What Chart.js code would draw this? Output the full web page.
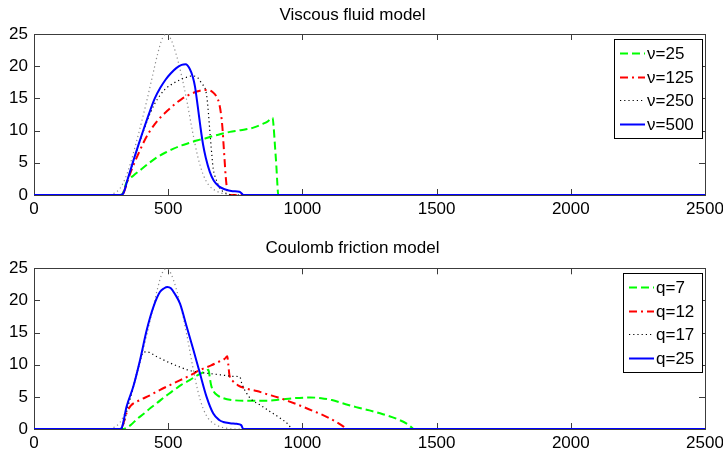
<!DOCTYPE html>
<html>
<head>
<meta charset="utf-8">
<title>Viscous fluid / Coulomb friction</title>
<script src="https://cdn.jsdelivr.net/npm/chart.js@4.4.1/dist/chart.umd.min.js"></script>
<style>
  body { margin: 0; background: #fff; }
  .panel { position: absolute; left: 0; width: 723px; height: 228px; }
</style>
</head>
<body>
<div class="panel" style="top:0"><canvas id="viscous" width="723" height="228"></canvas></div>
<div class="panel" style="top:228px"><canvas id="coulomb" width="723" height="228"></canvas></div>
<script>
// Axis ticks
const xTicks = [0, 500, 1000, 1500, 2000, 2500];
const yTicks = [0, 5, 10, 15, 20, 25];

// Reference pulse (thin grey dots, same in both panels)
const refX = [0, 280, 300, 320, 340, 360, 380, 400, 420, 440, 460, 478, 495, 510, 530, 550, 570, 590, 610, 630, 650, 680, 720, 740, 2500];
const refY = [0, 0, 0.3, 1.0, 2.6, 5.0, 8.0, 11.2, 14.6, 18.2, 21.8, 24.3, 25.0, 24.2, 21.8, 18.5, 14.5, 10.0, 6.0, 3.2, 1.6, 0.6, 0.1, 0, 0];

// Viscous fluid model
const viscLabels = ['ν=25', 'ν=125', 'ν=250', 'ν=500'];
const visc25X = [0, 320, 330, 345, 370, 400, 430, 460, 490, 520, 550, 580, 610, 640, 670, 700, 730, 760, 790, 820, 850, 870, 889, 893, 898, 903, 907, 910, 2500];
const visc25Y = [0, 0, 0.2, 2.0, 3.0, 4.0, 5.0, 5.9, 6.6, 7.2, 7.7, 8.1, 8.5, 8.8, 9.2, 9.5, 9.8, 10.0, 10.2, 10.5, 11.0, 11.4, 12.0, 10.5, 7.5, 4.5, 1.5, 0, 0];
const visc125X = [0, 320, 330, 350, 370, 390, 410, 430, 450, 470, 490, 510, 530, 550, 570, 590, 610, 630, 650, 665, 680, 690, 697, 702, 706, 710, 714, 718, 722, 730, 2500];
const visc125Y = [0, 0, 0.1, 2.4, 4.6, 6.5, 8.3, 9.8, 11.0, 12.0, 12.8, 13.6, 14.3, 14.9, 15.4, 15.8, 16.1, 16.3, 16.3, 16.0, 15.3, 14.2, 12.5, 10.5, 8.0, 5.5, 3.0, 1.3, 0.3, 0, 0];
const visc250X = [0, 320, 330, 350, 370, 390, 410, 430, 450, 470, 490, 510, 530, 550, 570, 590, 610, 625, 640, 646, 650, 654, 658, 663, 668, 678, 690, 705, 720, 740, 2500];
const visc250Y = [0, 0, 0.1, 2.5, 5.2, 7.8, 10.2, 12.4, 14.2, 15.5, 16.5, 17.1, 17.6, 18.0, 18.3, 18.5, 18.2, 17.3, 16.2, 14.5, 12.7, 10.5, 8.5, 6.0, 4.0, 2.5, 1.2, 0.5, 0.2, 0, 0];
const visc500X = [0, 320, 330, 350, 370, 390, 410, 430, 450, 470, 490, 510, 530, 550, 565, 580, 592, 600, 610, 620, 630, 640, 655, 670, 690, 710, 740, 765, 775, 780, 2500];
const visc500Y = [0, 0, 0.1, 2.6, 5.3, 7.9, 10.4, 12.8, 15.0, 16.6, 17.9, 18.9, 19.7, 20.2, 20.3, 19.6, 18.3, 16.8, 13.8, 10.6, 7.8, 5.8, 3.6, 2.2, 1.3, 0.9, 0.6, 0.5, 0.2, 0, 0];

// Coulomb friction model
const coulLabels = ['q=7', 'q=12', 'q=17', 'q=25'];
const coul7X = [0, 330, 340, 360, 385, 410, 435, 460, 490, 520, 550, 580, 610, 635, 650, 655, 660, 670, 685, 705, 740, 780, 830, 870, 920, 970, 1030, 1070, 1110, 1150, 1200, 1250, 1300, 1350, 1390, 1405, 1415, 2500];
const coul7Y = [0, 0, 0.1, 0.6, 1.6, 2.4, 3.3, 4.1, 5.1, 6.0, 6.9, 7.6, 8.4, 8.9, 9.2, 8.0, 6.8, 5.8, 5.2, 4.8, 4.5, 4.4, 4.4, 4.4, 4.6, 4.8, 4.9, 4.8, 4.5, 4.0, 3.4, 2.9, 2.3, 1.6, 0.8, 0.3, 0, 0];
const coul12X = [0, 320, 330, 345, 360, 395, 430, 470, 510, 545, 580, 620, 660, 695, 710, 720, 724, 728, 740, 760, 790, 830, 870, 910, 950, 1000, 1040, 1070, 1100, 1130, 1152, 1165, 2500];
const coul12Y = [0, 0, 0.5, 2.5, 3.6, 4.5, 5.2, 6.1, 6.9, 7.6, 8.3, 9.2, 9.9, 10.6, 10.9, 11.3, 10.0, 8.4, 7.5, 6.8, 6.3, 5.9, 5.4, 4.9, 4.3, 3.5, 2.8, 2.3, 1.7, 1.0, 0.4, 0, 0];
const coul17X = [0, 320, 330, 350, 370, 390, 405, 420, 460, 500, 540, 580, 620, 660, 700, 740, 767, 774, 790, 810, 840, 880, 920, 950, 960, 2500];
const coul17Y = [0, 0, 0.3, 3.5, 6.6, 9.8, 11.8, 12.0, 11.2, 10.4, 9.7, 9.1, 8.8, 8.6, 8.4, 8.2, 8.1, 7.1, 5.7, 4.6, 3.8, 2.7, 1.6, 0.6, 0, 0];
const coul25X = [0, 320, 327, 345, 370, 395, 420, 445, 469, 485, 497, 510, 525, 544, 569, 594, 618, 643, 668, 690, 705, 730, 755, 772, 780, 2500];
const coul25Y = [0, 0, 0.2, 3.5, 6.6, 10.7, 15.4, 19.0, 21.3, 21.9, 22.1, 21.9, 21.0, 19.5, 15.9, 12.3, 8.7, 5.0, 2.4, 1.4, 1.1, 0.9, 0.8, 0.6, 0, 0];

const FONT = '"Liberation Sans", Arial, Helvetica, sans-serif';

// line styles, in legend order (green dashed, red dash-dot, black dotted, blue solid)
const lineStyles = [
  { borderColor: '#00ff00', borderWidth: 2, borderDash: [8, 4], order: 3 },
  { borderColor: '#ff0000', borderWidth: 2, borderDash: [8, 4, 2, 4], order: 2 },
  { borderColor: '#000000', borderWidth: 1.2, borderDash: [1.2, 3], order: 1 },
  { borderColor: '#0000ff', borderWidth: 2, borderDash: [], order: 0 }
];

function points(xs, ys) {
  return xs.map((x, i) => ({ x: x, y: ys[i] }));
}

function buildDatasets(labels, series) {
  const sets = series.map((s, i) => Object.assign({
    label: labels[i],
    data: points(s[0], s[1]),
    pointRadius: 0,
    fill: false,
    cubicInterpolationMode: 'monotone'
  }, lineStyles[i]));
  sets.push({
    label: '',
    data: points(refX, refY),
    borderColor: '#8c8c8c',
    borderWidth: 1.2,
    borderDash: [1.2, 3],
    pointRadius: 0,
    fill: false,
    cubicInterpolationMode: 'monotone',
    order: 4
  });
  return sets;
}

// box around the axes, inward tick marks, and the boxed legend in the corner
const matlabAxes = {
  id: 'matlabAxes',
  beforeDatasetsDraw(chart) {
    const ctx = chart.ctx;
    const a = chart.chartArea;
    const xs = chart.scales.x, ys = chart.scales.y;
    const len = 6;
    ctx.save();
    ctx.strokeStyle = '#3c3c3c';
    ctx.lineWidth = 1;
    ctx.strokeRect(Math.round(a.left) + 0.5, Math.round(a.top) + 0.5,
      Math.round(a.right - a.left), Math.round(a.bottom - a.top));
    ctx.beginPath();
    xTicks.forEach(v => {
      const px = Math.round(xs.getPixelForValue(v)) + 0.5;
      ctx.moveTo(px, a.bottom); ctx.lineTo(px, a.bottom - len);
      ctx.moveTo(px, a.top); ctx.lineTo(px, a.top + len);
    });
    yTicks.forEach(v => {
      const py = Math.round(ys.getPixelForValue(v)) + 0.5;
      ctx.moveTo(a.left, py); ctx.lineTo(a.left + len, py);
      ctx.moveTo(a.right, py); ctx.lineTo(a.right - len, py);
    });
    ctx.stroke();
    ctx.restore();
  },
  afterDatasetsDraw(chart, args, opts) {
    const ctx = chart.ctx;
    const a = chart.chartArea;
    const items = chart.data.datasets.filter(d => d.label);
    ctx.save();
    ctx.font = '17px ' + FONT;
    const textW = Math.max(...items.map(d => ctx.measureText(d.label).width));
    const w = Math.round(textW + 41);
    const h = Math.round(opts.rowHeight * items.length + 4);
    const right = Math.round(a.right) - 3;
    const left = right - w;
    const top = Math.round(a.top) + opts.offsetTop;
    ctx.fillStyle = '#fff';
    ctx.fillRect(left, top, w, h);
    ctx.strokeStyle = '#000';
    ctx.lineWidth = 1;
    ctx.strokeRect(left + 0.5, top + 0.5, w, h);
    ctx.textBaseline = 'middle';
    ctx.textAlign = 'left';
    items.forEach((d, i) => {
      const y = Math.round(top + 13.7 + i * opts.rowHeight) + 0.5;
      ctx.beginPath();
      ctx.setLineDash(d.borderDash);
      ctx.strokeStyle = d.borderColor;
      ctx.lineWidth = d.borderWidth;
      ctx.moveTo(left + 6, y);
      ctx.lineTo(left + 31, y);
      ctx.stroke();
      ctx.setLineDash([]);
      ctx.fillStyle = '#000';
      ctx.fillText(d.label, left + 33, y + 1);
    });
    ctx.restore();
  }
};

function makePanel(canvasId, title, titlePad, areaBottom, datasets, legendTop) {
  return new Chart(document.getElementById(canvasId), {
    type: 'line',
    data: { datasets: datasets },
    plugins: [matlabAxes],
    options: {
      responsive: false,
      animation: false,
      devicePixelRatio: 1,
      layout: { padding: { left: 0, right: 18, top: 0, bottom: 0 } },
      plugins: {
        legend: { display: false },
        tooltip: { enabled: false },
        title: {
          display: true,
          text: title,
          color: '#000',
          font: { family: FONT, size: 17, weight: 'normal', lineHeight: 1.2 },
          padding: titlePad
        },
        matlabAxes: { rowHeight: 23.8, offsetTop: legendTop }
      },
      scales: {
        x: {
          type: 'linear',
          min: 0,
          max: 2500,
          grid: { display: false, drawTicks: false },
          border: { display: false },
          ticks: {
            stepSize: 500,
            maxRotation: 0,
            padding: 4,
            color: '#000',
            font: { family: FONT, size: 17 },
            callback: v => String(v)
          },
          afterFit(scale) {
            scale.height = 228 - areaBottom;
            scale.paddingLeft = 0;
            scale.paddingRight = 0;
          }
        },
        y: {
          min: 0,
          max: 25,
          grid: { display: false, drawTicks: false },
          border: { display: false },
          ticks: {
            stepSize: 5,
            padding: 6,
            color: '#000',
            font: { family: FONT, size: 17 },
            callback: v => String(v)
          },
          afterFit(scale) {
            scale.width = 34;
            scale.paddingTop = 0;
            scale.paddingBottom = 0;
          }
        }
      }
    }
  });
}

makePanel('viscous', 'Viscous fluid model', { top: 5, bottom: 8.6 }, 195,
  buildDatasets(viscLabels, [[visc25X, visc25Y], [visc125X, visc125Y], [visc250X, visc250Y], [visc500X, visc500Y]]), 5);

makePanel('coulomb', 'Coulomb friction model', { top: 10, bottom: 9.9 }, 201,
  buildDatasets(coulLabels, [[coul7X, coul7Y], [coul12X, coul12Y], [coul17X, coul17Y], [coul25X, coul25Y]]), 5);
</script>
</body>
</html>
